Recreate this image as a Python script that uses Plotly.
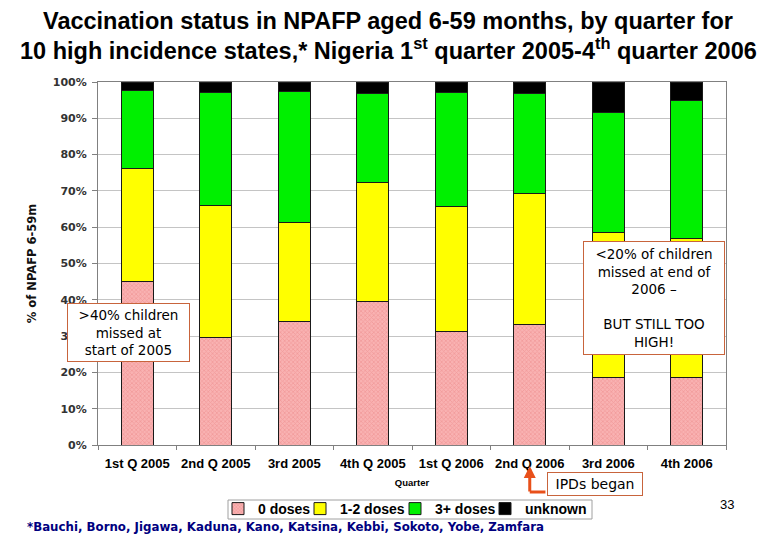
import plotly.graph_objects as go

quarters = ["1st Q 2005", "2nd Q 2005", "3rd 2005", "4th Q 2005",
            "1st Q 2006", "2nd Q 2006", "3rd 2006", "4th 2006"]
zero_doses = [45.0, 29.5, 33.9, 39.4, 31.4, 33.1, 18.7, 18.5]
one_two_doses = [31.3, 36.6, 27.3, 32.8, 34.4, 36.3, 39.9, 38.5]
three_plus_doses = [21.3, 31.1, 36.1, 24.7, 31.3, 27.4, 32.9, 37.8]
unknown = [2.4, 2.8, 2.7, 3.1, 2.9, 3.2, 8.5, 5.2]
series_names = ["0 doses", "1-2 doses", "3+ doses", "unknown"]

ARIAL = "Liberation Sans, Arial, sans-serif"
DEJA = "DejaVu Sans, Verdana, sans-serif"
line_col = "#1a1a1a"

# The page body has an 8px margin; work in screen pixels of the 780x540 window.
OFF = 8
W, H = 780 - OFF, 540 - OFF
PL, PR, PT, PB = 98, 726, 82, 445          # plot area in screen pixels
L, T = PL - OFF, PT - OFF
R, B = W - (PR - OFF), H - (PB - OFF)
pw, ph = PR - PL, PB - PT

def px2x(px):
    return (px - PL) / pw

def px2y(py):
    return (PB - py) / ph

legend_ids = ["legend", "legend2", "legend3", "legend4"]
fig = go.Figure()
fig.add_trace(go.Bar(x=quarters, y=zero_doses, name=series_names[0], legend=legend_ids[0],
                     marker=dict(color="#f9b2b2", line=dict(color=line_col, width=1),
                                 pattern=dict(shape="x", size=3, solidity=0.45,
                                              fgcolor="#e98484", fillmode="overlay"))))
fig.add_trace(go.Bar(x=quarters, y=one_two_doses, name=series_names[1], legend=legend_ids[1],
                     marker=dict(color="#ffff00", line=dict(color=line_col, width=1))))
fig.add_trace(go.Bar(x=quarters, y=three_plus_doses, name=series_names[2], legend=legend_ids[2],
                     marker=dict(color="#00f000", line=dict(color=line_col, width=1))))
fig.add_trace(go.Bar(x=quarters, y=unknown, name=series_names[3], legend=legend_ids[3],
                     marker=dict(color="#000000", line=dict(color=line_col, width=1))))

legend_left_px = [218, 300, 395, 485]
legend_y_px = 509
leg_common = dict(orientation="h", xanchor="left", yanchor="middle",
                  bgcolor="rgba(0,0,0,0)", borderwidth=0, itemwidth=30,
                  font=dict(size=14, family=ARIAL, color="black", weight="bold"))
legends = {lid: dict(x=px2x(xl), y=px2y(legend_y_px), **leg_common)
           for lid, xl in zip(legend_ids, legend_left_px)}

fig.update_layout(
    barmode="stack",
    bargap=0.59,
    width=W, height=H,
    margin=dict(l=L, r=R, t=T, b=B),
    paper_bgcolor="white", plot_bgcolor="white",
    font=dict(family=ARIAL, color="black"),
    showlegend=True,
    xaxis=dict(title=dict(text="<b>Quarter</b>", font=dict(size=9.5, family=ARIAL), standoff=9),
               tickfont=dict(size=13, family=ARIAL, color="black", weight="bold"),
               showline=True, linecolor="#808080", mirror=True,
               ticks="outside", ticklen=4, tickcolor="#808080", tickson="boundaries",
               ticklabelstandoff=6, showgrid=False),
    yaxis=dict(title=dict(text="<b>% of NPAFP 6-59m</b>", font=dict(size=11.5, family=DEJA, color="#111111"),
                          standoff=13),
               range=[0, 100], dtick=10, ticksuffix="%",
               tickfont=dict(size=11, family=DEJA, color="#333333", weight="bold"),
               showline=True, linecolor="#808080", mirror=True,
               ticks="outside", ticklen=5, tickcolor="#808080", ticklabelstandoff=3,
               showgrid=True, gridcolor="#c4c4c4", gridwidth=1, zeroline=False),
    **legends,
)

# legend frame
fig.add_shape(type="rect", xref="paper", yref="paper",
              x0=px2x(228), x1=px2x(592), y0=px2y(500), y1=px2y(519),
              line=dict(color="#a0a0a0", width=1), fillcolor="rgba(0,0,0,0)", layer="below")

# title
fig.add_annotation(xref="paper", yref="paper", x=px2x(388), y=px2y(21),
                   text="<b>Vaccination status in NPAFP aged 6-59 months, by quarter for</b>",
                   showarrow=False, xanchor="center", yanchor="middle",
                   font=dict(size=23.5, family=ARIAL, color="black"))
fig.add_annotation(xref="paper", yref="paper", x=px2x(388), y=px2y(49),
                   text="<b>10 high incidence states,* Nigeria 1<sup>st</sup> quarter 2005-4<sup>th</sup> quarter 2006</b>",
                   showarrow=False, xanchor="center", yanchor="middle",
                   font=dict(size=23.5, family=ARIAL, color="black"))

box_col = "#c8643c"
fig.add_annotation(xref="paper", yref="paper", x=px2x(128.5), y=px2y(332.5),
                   text=">40% children<br>missed at<br>start of 2005",
                   showarrow=False, font=dict(size=13.5, family=DEJA, color="black"),
                   bgcolor="white", bordercolor=box_col, borderwidth=1, borderpad=3,
                   width=115, height=51, xanchor="center", yanchor="middle")
fig.add_annotation(xref="paper", yref="paper", x=px2x(654), y=px2y(298),
                   text="<20% of children<br>missed at end of<br>2006 –<br><br>BUT STILL TOO<br>HIGH!",
                   showarrow=False, font=dict(size=13.5, family=DEJA, color="black"),
                   bgcolor="white", bordercolor=box_col, borderwidth=1, borderpad=3,
                   width=134, height=106, xanchor="center", yanchor="middle")
fig.add_annotation(xref="paper", yref="paper", x=px2x(595), y=px2y(484),
                   text="IPDs began", showarrow=False,
                   font=dict(size=14, family=DEJA, color="black"),
                   bgcolor="white", bordercolor=box_col, borderwidth=1, borderpad=3,
                   width=88, height=16, xanchor="center", yanchor="middle")
arrow_col = "#e8501a"
fig.add_annotation(xref="x", yref="paper", x="2nd Q 2006", y=px2y(466),
                   ax=0, ay=27, text="", showarrow=True, arrowhead=2, arrowsize=0.8,
                   arrowwidth=3, arrowcolor=arrow_col)
fig.add_shape(type="line", xref="x", yref="paper", x0=5, x1=5.2, y0=px2y(492), y1=px2y(492),
              line=dict(color=arrow_col, width=3))

fig.add_annotation(xref="paper", yref="paper", x=px2x(25), y=px2y(527),
                   text="<b>*Bauchi, Borno, Jigawa, Kaduna, Kano, Katsina, Kebbi, Sokoto, Yobe, Zamfara</b>",
                   showarrow=False, xanchor="left", yanchor="middle",
                   font=dict(size=11.8, family=DEJA, color="#000080"))
fig.add_annotation(xref="paper", yref="paper", x=px2x(727), y=px2y(505),
                   text="33", showarrow=False, xanchor="center", yanchor="middle",
                   font=dict(size=13, family=ARIAL, color="black"))

fig.write_html("out.html")
